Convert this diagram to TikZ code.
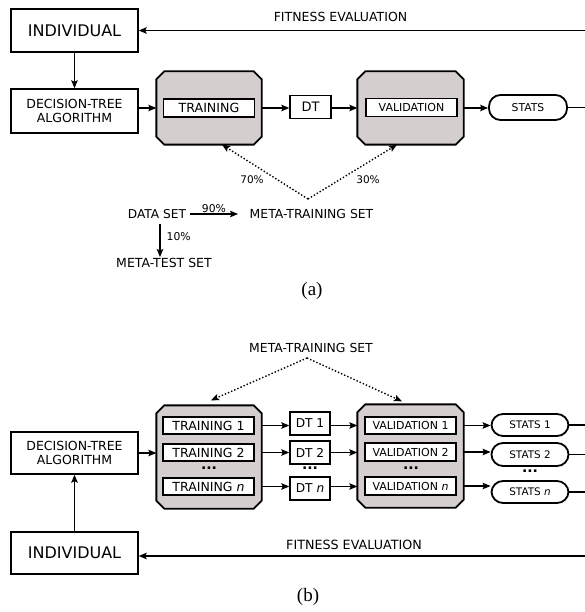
\documentclass[tikz,border=0pt]{standalone}
\usepackage{fontspec}
\setmainfont{DejaVu Sans}
\newfontfamily\capfont{Liberation Serif}
\usetikzlibrary{arrows.meta,calc}
\definecolor{boxgray}{RGB}{212,206,206}

% chamfered grey panel drawn around an (invisible) frame node
\newcommand\drawpanel[1]{%
  \draw[line width=1.8pt, fill=boxgray]
    ([xshift=8pt]#1.north west) -- ([xshift=-8pt]#1.north east)
    -- ([yshift=-8pt]#1.north east) -- ([yshift=8pt]#1.south east)
    -- ([xshift=-8pt]#1.south east) -- ([xshift=8pt]#1.south west)
    -- ([yshift=8pt]#1.south west) -- ([yshift=-8pt]#1.north west) -- cycle;}

\begin{document}
\begin{tikzpicture}[x=1pt,y=-1pt,
  >={Stealth[length=8pt,width=6.5pt,inset=1.5pt]},
  line width=1.3pt,
  fs/.style={font=\fontsize{#1}{#1}\selectfont},
  bigbox/.style={draw, line width=1.4pt, fill=white, inner sep=0pt, align=center,
    minimum width=127pt, minimum height=43pt},
  stepbox/.style={draw, line width=1.8pt, fill=white, inner sep=0pt,
    minimum width=91pt, minimum height=18pt},
  dtbox/.style={draw, line width=1.4pt, fill=white, inner sep=0pt,
    minimum width=41pt, minimum height=23pt, fs=13},
  statbox/.style={draw, line width=1.8pt, fill=white, rounded corners=11.5pt,
    inner sep=0pt, minimum width=78pt, minimum height=24pt, fs=10.8},
  frame/.style={inner sep=0pt, minimum width=104pt},
  lbl/.style={inner sep=1pt},
  dotsnode/.style={inner sep=0pt, font=\fontsize{14}{14}\selectfont\bfseries},
  caption/.style={inner sep=0pt, font=\capfont\fontsize{19}{19}\selectfont},
  link/.style={->, line width=1.4pt},
  feed/.style={dotted, ->, line width=1.4pt}
]
\useasboundingbox (0,0) rectangle (584,612);

% ---------------- (a) ----------------
\node[bigbox, fs=16] (inda) at (74.5,30.5) {INDIVIDUAL};
\node[bigbox, fs=12.5, minimum height=44pt] (dtaa) at (74.5,111) {DECISION-TREE\\[1pt]ALGORITHM};

\node[frame, minimum height=72pt] (trca) at (209,108) {};
\drawpanel{trca}
\node[stepbox, fs=12.6] (tra) at (209,108) {TRAINING};

\node[dtbox] (dta) at (310.5,107) {DT};

\node[frame, minimum height=72pt, minimum width=105pt] (vca) at (410.5,108) {};
\drawpanel{vca}
\node[stepbox, fs=11] (vala) at (411.5,107.5) {VALIDATION};

\node[statbox, minimum height=25pt] (sta) at (528,107.5) {STATS};

\coordinate (ra) at (590,0);
\node[lbl, fs=12.5] (fita) at (340.5,17) {FITNESS EVALUATION};

\draw[link] (inda) -- (dtaa);
\draw[link] (dtaa.east |- tra) -- (trca.west |- tra);
\draw[link] (trca.east |- tra) -- (dta.west |- tra);
\draw[link] (dta.east |- tra) -- (vca.west |- tra);
\draw[link] (vca.east |- tra) -- (sta.west |- tra);
\draw[link] (sta.east) -- (sta.east -| ra) |- (inda.east);

% data split
\node[lbl, fs=12.2] (ds) at (157,214) {DATA SET};
\node[lbl, fs=12.4] (mtsa) at (311.5,214) {META-TRAINING SET};
\node[lbl, fs=12.5] (mtest) at (164,263) {META-TEST SET};
\coordinate (apexa) at (308,199);

\draw[link] ([xshift=2pt]ds.east) -- ([xshift=-10pt]mtsa.west)
  node[midway, above=0pt, lbl, fs=10.8] (p90) {90\%};
\draw[link] (160,224) -- (160,257);
\node[lbl, fs=10.8, anchor=west] (p10) at (165,237) {10\%};

\draw[feed] (apexa) -- ([xshift=13pt]trca.south);
\draw[feed] (apexa) -- ([xshift=-13.5pt]vca.south);
\node[lbl, fs=10.5] (p70) at (252,180) {70\%};
\node[lbl, fs=10.5] (p30) at (368,180) {30\%};

\node[caption] (capa) at (312,291) {(a)};

% ---------------- (b) ----------------
\node[lbl, fs=12.4] (mtsb) at (311,348) {META-TRAINING SET};
\coordinate (apexb) at (307,358);

\node[frame, minimum height=102pt] (trcb) at (209,457) {};
\drawpanel{trcb}
\node[stepbox, fs=12.5, minimum height=17.5pt] (tr1) at (208.5,425.5) {TRAINING 1};
\node[stepbox, fs=12.5, minimum height=17.5pt] (tr2) at (208.5,452.5) {TRAINING 2};
\node[dotsnode] (trdots) at (209,468) {...};
\node[stepbox, fs=12.5, minimum height=17.5pt] (trn) at (208.5,486.5) {TRAINING \textit{n}};

\node[dtbox, fs=12.2, minimum width=40pt] (dt1) at (310,423.5) {DT 1};
\node[dtbox, fs=12.2, minimum width=40pt] (dt2) at (310,452.5) {DT 2};
\node[dotsnode] (dtdots) at (310,468) {...};
\node[dtbox, fs=12.2, minimum width=40pt] (dtn) at (310,488.5) {DT \textit{n}};

\node[frame, minimum height=102pt, minimum width=105pt] (vcb) at (410.5,456) {};
\drawpanel{vcb}
\node[stepbox, fs=11, minimum height=17.5pt] (val1) at (410.5,425.5) {VALIDATION 1};
\node[stepbox, fs=11, minimum height=17.5pt] (val2) at (410.5,452) {VALIDATION 2};
\node[dotsnode] (valdots) at (411,468) {...};
\node[stepbox, fs=11, minimum height=17.5pt] (valn) at (410.5,486) {VALIDATION \textit{n}};

\node[statbox, fs=10.4, minimum width=77pt, minimum height=22pt] (st1) at (530,425) {STATS 1};
\node[statbox, fs=10.4, minimum width=77pt, minimum height=23pt] (st2) at (530,454.5) {STATS 2};
\node[dotsnode] (stdots) at (530,471) {...};
\node[statbox, fs=10.4, minimum width=77pt, minimum height=22pt] (stn) at (530,492) {STATS \textit{n}};

\node[bigbox, fs=12.5, minimum height=42pt] (dtab) at (74.5,453) {DECISION-TREE\\[1pt]ALGORITHM};
\node[bigbox, fs=16, minimum height=42pt] (indb) at (74.5,553) {INDIVIDUAL};

\coordinate (rb) at (590,0);
\coordinate (fitlineb) at (590,556);
\node[lbl, fs=12.7] (fitb) at (354,545) {FITNESS EVALUATION};

\draw[feed] (apexb) -- ([xshift=2pt,yshift=5pt]trcb.north);
\draw[feed] (apexb) -- ([xshift=-8.5pt,yshift=3pt]vcb.north);

\draw[link] (indb) -- (dtab);
\draw[link] (dtab.east) -- (trcb.west |- dtab.east);
\foreach \t/\d/\v/\s in {tr1/dt1/val1/st1, tr2/dt2/val2/st2, trn/dtn/valn/stn}{
  \draw[link] (trcb.east |- \t) -- (\d.west |- \t);
  \draw[link] (\d.east |- \t) -- (vcb.west |- \t);
  \draw[link] (vcb.east |- \v) -- (\s.west |- \v);
  \draw[line width=1.4pt] (\s.east) -- (\s.east -| rb);
}
\draw[link] (rb |- st1) -- (fitlineb) -- (fitlineb -| indb.east);

\node[caption] (capb) at (308,597) {(b)};
\end{tikzpicture}
\end{document}
